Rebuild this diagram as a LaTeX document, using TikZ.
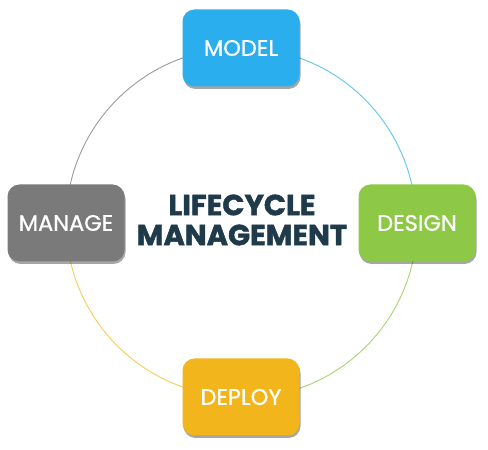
\documentclass[tikz,border=0pt]{standalone}
\usepackage{fontspec}
\newfontfamily\popbox{Poppins}[FakeBold=0.8]
\newfontfamily\popblack{Poppins}[BoldFeatures={FakeBold=1.6}]
\usetikzlibrary{shadows,backgrounds}
\definecolor{cmodel}{HTML}{2AAEEE}
\definecolor{cdesign}{HTML}{8DC846}
\definecolor{cdeploy}{HTML}{F2B61C}
\definecolor{cmanage}{HTML}{7A7A7A}
\definecolor{ctitle}{HTML}{1F3A4B}
\definecolor{amodel}{HTML}{5CC6F2}
\definecolor{adesign}{HTML}{A8D470}
\definecolor{adeploy}{HTML}{F5CD5A}
\definecolor{amanage}{HTML}{9A9A9A}
\tikzset{
  stagebox/.style={rounded corners=12pt, minimum width=117pt, minimum height=77pt,
    text=white, font=\popbox\fontsize{22.5}{26}\selectfont, inner sep=0pt,
    drop shadow={shadow xshift=1pt, shadow yshift=-2.5pt, opacity=0.35, fill=black}},
  ringarc/.style={line width=0.9pt},
}
\begin{document}
\begin{tikzpicture}[x=1pt,y=1pt]
\useasboundingbox (0,0) rectangle (488,450);
\node[stagebox, fill=cmodel] (model) at (241,402) {MODEL};
\node[stagebox, fill=cdesign] (design) at (417,227) {DESIGN};
\node[stagebox, fill=cdeploy] (deploy) at (241,53) {DEPLOY};
\node[stagebox, fill=cmanage] (manage) at (66,227) {MANAGE};
\node[text=ctitle, align=center, font=\popblack\bfseries\fontsize{29}{30}\selectfont] (title) at (242,230) {LIFECYCLE\\MANAGEMENT};
\begin{scope}[on background layer]
\draw[ringarc, amodel] (model.center) arc[start angle=90, end angle=0, radius=175];
\draw[ringarc, adesign] (design.center) arc[start angle=0, end angle=-90, radius=175];
\draw[ringarc, adeploy] (deploy.center) arc[start angle=-90, end angle=-180, radius=175];
\draw[ringarc, amanage] (manage.center) arc[start angle=180, end angle=90, radius=175];
\end{scope}
\end{tikzpicture}
\end{document}
